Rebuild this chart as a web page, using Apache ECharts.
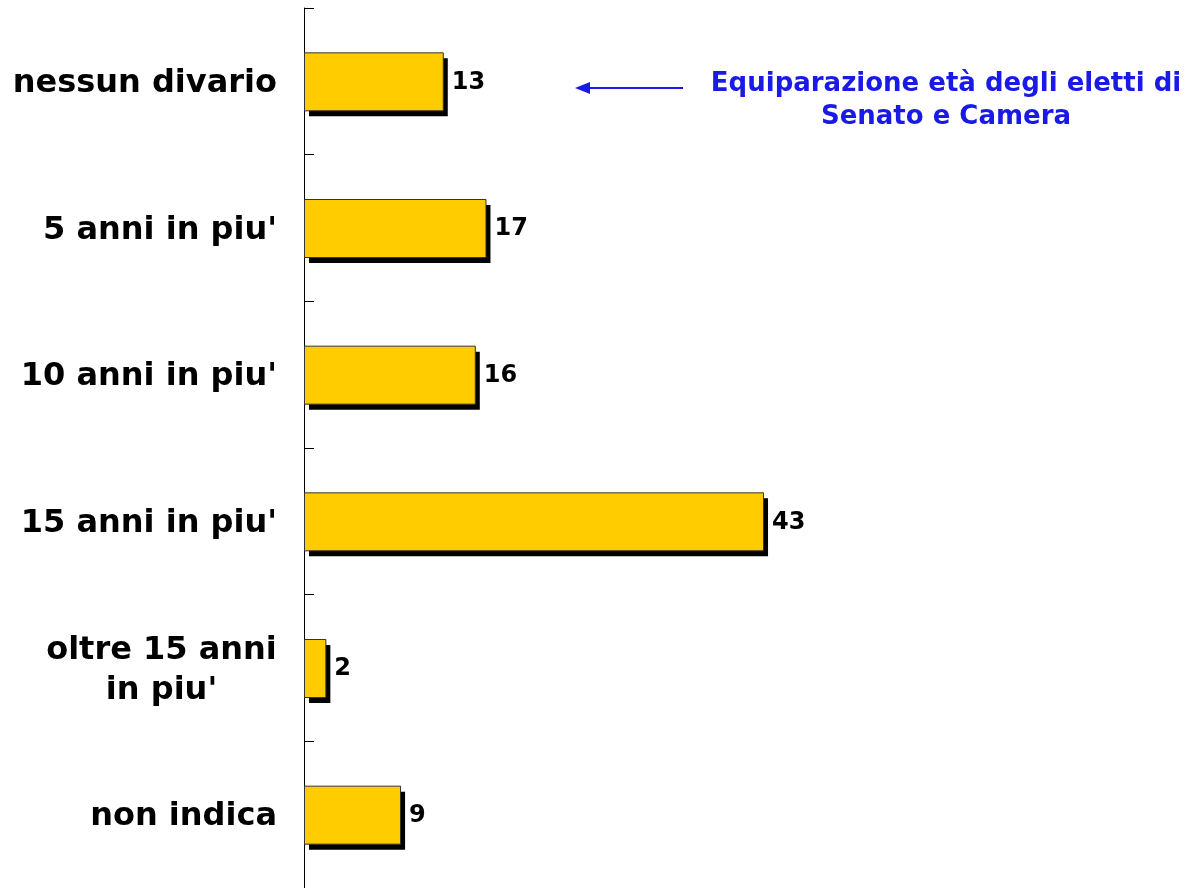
<!DOCTYPE html>
<html>
<head>
<meta charset="utf-8">
<script src="https://cdn.jsdelivr.net/npm/echarts@6/dist/echarts.min.js"></script>
<style>
  html, body { margin: 0; padding: 0; background: #fff; }
  #chart { width: 1187px; height: 888px; }
</style>
</head>
<body>
<div id="chart"></div>
<script>
// categories, top to bottom
var categories = ["nessun divario", "5 anni in piu'", "10 anni in piu'", "15 anni in piu'", "oltre 15 anni\nin piu'", "non indica"];
var values = [13, 17, 16, 43, 2, 9];
var noteLines = ["Equiparazione età degli eletti di", "Senato e Camera"];

var FONT = "DejaVu Sans";
var BLUE = "#1a1ae6";
var chart = echarts.init(document.getElementById("chart"));

// bar drawn with its hard black drop shadow behind it
function renderBar(params, api) {
    var idx = api.value(0);
    var val = api.value(1);
    var start = api.coord([0, idx]);
    var end = api.coord([val, idx]);
    var h = 58;
    var w = end[0] - start[0];
    var top = start[1] - h / 2;
    return {
        type: "group",
        children: [
            {
                type: "rect",
                shape: { x: start[0] + 5, y: top + 6, width: w, height: h },
                style: { fill: "#000" }
            },
            {
                type: "rect",
                shape: { x: start[0] + 0.5, y: top + 0.5, width: w, height: h },
                style: { fill: "#FFCC00", stroke: "#333", lineWidth: 1 }
            },
            {
                type: "text",
                x: end[0] + 9,
                y: start[1] + 1,
                style: {
                    text: String(val),
                    fill: "#000",
                    font: "bold 24px " + FONT,
                    verticalAlign: "middle",
                    align: "left"
                }
            }
        ]
    };
}

chart.setOption({
    animation: false,
    grid: { left: 304, top: 8, width: 854, bottom: -2, containLabel: false },
    xAxis: {
        type: "value",
        min: 0,
        max: 80,
        show: false
    },
    yAxis: {
        type: "category",
        data: categories,
        inverse: true,
        axisLine: { show: true, lineStyle: { color: "#000", width: 1 } },
        axisTick: { show: true, inside: true, length: 10, lineStyle: { color: "#000" } },
        axisLabel: {
            margin: 27,
            color: "#000",
            fontFamily: FONT,
            fontWeight: "bold",
            fontSize: 32,
            lineHeight: 40,
            padding: [5, 0, 0, 0],
            align: "right",
            formatter: function (v) {
                if (v.indexOf("\n") < 0) return v;
                return v.split("\n").map(function (l) { return "{c|" + l + "}"; }).join("\n");
            },
            rich: {
                c: {
                    width: 231,
                    align: "center",
                    color: "#000",
                    fontFamily: FONT,
                    fontWeight: "bold",
                    fontSize: 32,
                    lineHeight: 40
                }
            }
        },
        splitLine: { show: false }
    },
    series: [{
        type: "custom",
        renderItem: renderBar,
        encode: { x: 1, y: 0 },
        data: values.map(function (v, i) { return [i, v]; })
    }],
    graphic: [
        {
            type: "line",
            shape: { x1: 683, y1: 88, x2: 586, y2: 88 },
            style: { stroke: BLUE, lineWidth: 2 }
        },
        {
            type: "polygon",
            shape: { points: [[575, 88], [590, 82], [590, 94]] },
            style: { fill: BLUE }
        },
        {
            type: "text",
            x: 946,
            y: 68,
            style: {
                text: noteLines.join("\n"),
                fill: BLUE,
                font: "bold 26px " + FONT,
                lineHeight: 33,
                align: "center",
                verticalAlign: "top"
            }
        }
    ]
});
</script>
</body>
</html>
